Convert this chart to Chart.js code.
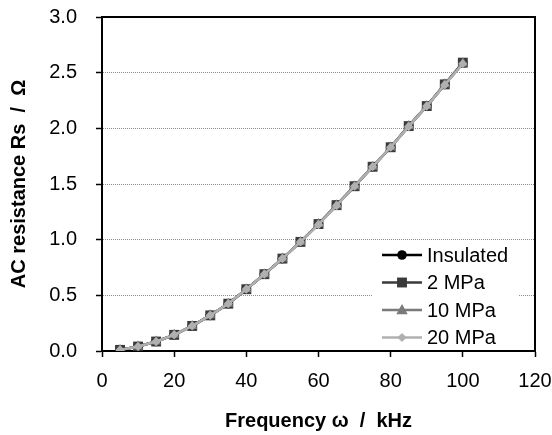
<!DOCTYPE html>
<html><head><meta charset="utf-8">
<script src="https://cdn.jsdelivr.net/npm/chart.js@4.4.0/dist/chart.umd.min.js"></script>
<style>html,body{margin:0;padding:0;background:#fff}#wrap{width:552px;height:435px;position:relative}</style>
</head><body><div id="wrap"><canvas id="c" width="552" height="435"></canvas></div>
<script>
const frequencies = [5,10,15,20,25,30,35,40,45,50,55,60,65,70,75,80,85,90,95,100];
const insulated = [0.01,0.04,0.085,0.145,0.225,0.32,0.425,0.555,0.69,0.83,0.98,1.14,1.31,1.48,1.655,1.83,2.02,2.20,2.395,2.585];
const mpa2      = [0.01,0.04,0.085,0.145,0.225,0.32,0.425,0.555,0.69,0.83,0.98,1.14,1.31,1.48,1.655,1.83,2.02,2.20,2.395,2.59];
const mpa10     = [0.01,0.04,0.085,0.145,0.225,0.32,0.425,0.555,0.69,0.83,0.98,1.14,1.31,1.48,1.655,1.83,2.02,2.20,2.395,2.585];
const mpa20     = [0.01,0.04,0.085,0.145,0.225,0.32,0.425,0.555,0.69,0.83,0.98,1.135,1.305,1.48,1.655,1.83,2.015,2.20,2.39,2.58];
const seriesNames = ['Insulated','2 MPa','10 MPa','20 MPa'];
const xTicks = [0,20,40,60,80,100,120];
const yTicks = [0,0.5,1.0,1.5,2.0,2.5,3.0];

const FONT = "'Liberation Sans', Arial, Helvetica, sans-serif";
Chart.defaults.font.family = FONT;
Chart.defaults.color = '#000';

const styles = [
  {color:'#000000', point:'circle', radius:4.8, width:2.5},
  {color:'#3a3a3a', point:'rect', radius:7, width:2.5},
  {color:'#7a7a7a', point:'triangle', radius:6, width:2.5},
  {color:'#b0b0b0', point:'rectRot', radius:4.6, width:2.5}
];
const seriesValues = [insulated, mpa2, mpa10, mpa20];

const datasets = seriesValues.map((vals, i) => ({
  label: seriesNames[i],
  data: frequencies.map((f, j) => ({x: f, y: vals[j]})),
  borderColor: styles[i].color,
  backgroundColor: styles[i].color,
  pointBackgroundColor: styles[i].color,
  pointBorderColor: styles[i].color,
  pointBorderWidth: 0,
  pointStyle: styles[i].point,
  pointRadius: styles[i].radius,
  borderWidth: styles[i].width,
  tension: 0,
  order: 4 - i
}));

function drawMarker(ctx, style, x, y) {
  ctx.save();
  ctx.fillStyle = style.color;
  ctx.beginPath();
  const r = style.radius;
  if (style.point === 'circle') {
    ctx.arc(x, y, r, 0, Math.PI * 2);
  } else if (style.point === 'rect') {
    const s = Math.SQRT1_2 * r;
    ctx.rect(x - s, y - s, 2 * s, 2 * s);
  } else if (style.point === 'triangle') {
    ctx.moveTo(x, y - r);
    ctx.lineTo(x + r * 0.95, y + r * 0.7);
    ctx.lineTo(x - r * 0.95, y + r * 0.7);
    ctx.closePath();
  } else {
    ctx.moveTo(x, y - r);
    ctx.lineTo(x + r, y);
    ctx.lineTo(x, y + r);
    ctx.lineTo(x - r, y);
    ctx.closePath();
  }
  ctx.fill();
  ctx.restore();
}

const framePlugin = {
  id: 'frame',
  beforeDatasetsDraw(chart) {
    const {ctx, chartArea: a} = chart;
    ctx.save();
    ctx.strokeStyle = '#000';
    ctx.lineWidth = 2;
    ctx.beginPath();
    ctx.moveTo(a.left, a.top);
    ctx.lineTo(a.right, a.top);
    ctx.lineTo(a.right, a.bottom);
    ctx.stroke();
    ctx.restore();
  }
};

const legendPlugin = {
  id: 'customLegend',
  afterDraw(chart) {
    const {ctx, chartArea: a} = chart;
    ctx.save();
    const boxL = a.right - 162, boxT = a.bottom - 108;
    ctx.fillStyle = '#fff';
    ctx.fillRect(boxL, boxT, 145, 106);
    const lineX1 = a.right - 153, lineX2 = a.right - 113, textX = a.right - 108;
    const rowY0 = a.bottom - 96, rowStep = 27.5;
    ctx.font = '20px ' + FONT;
    ctx.textBaseline = 'middle';
    ctx.textAlign = 'left';
    seriesNames.forEach((name, i) => {
      const y = rowY0 + i * rowStep;
      const st = styles[i];
      ctx.strokeStyle = st.color;
      ctx.lineWidth = st.width;
      ctx.beginPath();
      ctx.moveTo(lineX1, y);
      ctx.lineTo(lineX2, y);
      ctx.stroke();
      drawMarker(ctx, st, (lineX1 + lineX2) / 2, y);
      ctx.fillStyle = '#000';
      ctx.fillText(name, textX, y + 1);
    });
    ctx.restore();
  }
};

new Chart(document.getElementById('c'), {
  type: 'line',
  data: { datasets },
  plugins: [framePlugin, legendPlugin],
  options: {
    responsive: false,
    animation: false,
    events: [],
    layout: { padding: { top: 17, right: 17, left: 0, bottom: 0 } },
    plugins: { legend: { display: false }, tooltip: { enabled: false } },
    scales: {
      x: {
        type: 'linear',
        min: 0, max: 120,
        afterBuildTicks: s => { s.ticks = xTicks.map(v => ({value: v})); },
        afterFit: s => { s.height = 84; s.paddingLeft = 0; s.paddingRight = 0; },
        ticks: { font: { size: 20 }, color: '#000', padding: 12, maxRotation: 0, autoSkip: false,
                 callback: v => String(v) },
        grid: { drawOnChartArea: false, drawTicks: true, tickLength: 6, tickColor: '#000', tickWidth: 1.5 },
        border: { color: '#000', width: 2 },
        title: { display: true, text: 'Frequency ω  /  kHz', font: { size: 20, weight: 'bold' }, color: '#000', padding: { top: 0, bottom: 2 } }
      },
      y: {
        type: 'linear',
        min: 0, max: 3,
        afterBuildTicks: s => { s.ticks = yTicks.map(v => ({value: v})); },
        afterFit: s => { s.width = 102; s.paddingTop = 0; s.paddingBottom = 0; },
        ticks: { font: { size: 20 }, color: '#000', padding: 19, callback: v => Number(v).toFixed(1) },
        grid: { color: '#8c8c8c', lineWidth: 1, tickLength: 6, tickColor: '#000', tickWidth: 1.5, tickBorderDash: [] },
        border: { color: '#000', width: 2, dash: [1, 1] },
        title: { display: true, text: 'AC resistance Rs  /  Ω', font: { size: 20, weight: 'bold' }, color: '#000', padding: { top: 7, bottom: 0 } }
      }
    }
  }
});
</script>
</body></html>
